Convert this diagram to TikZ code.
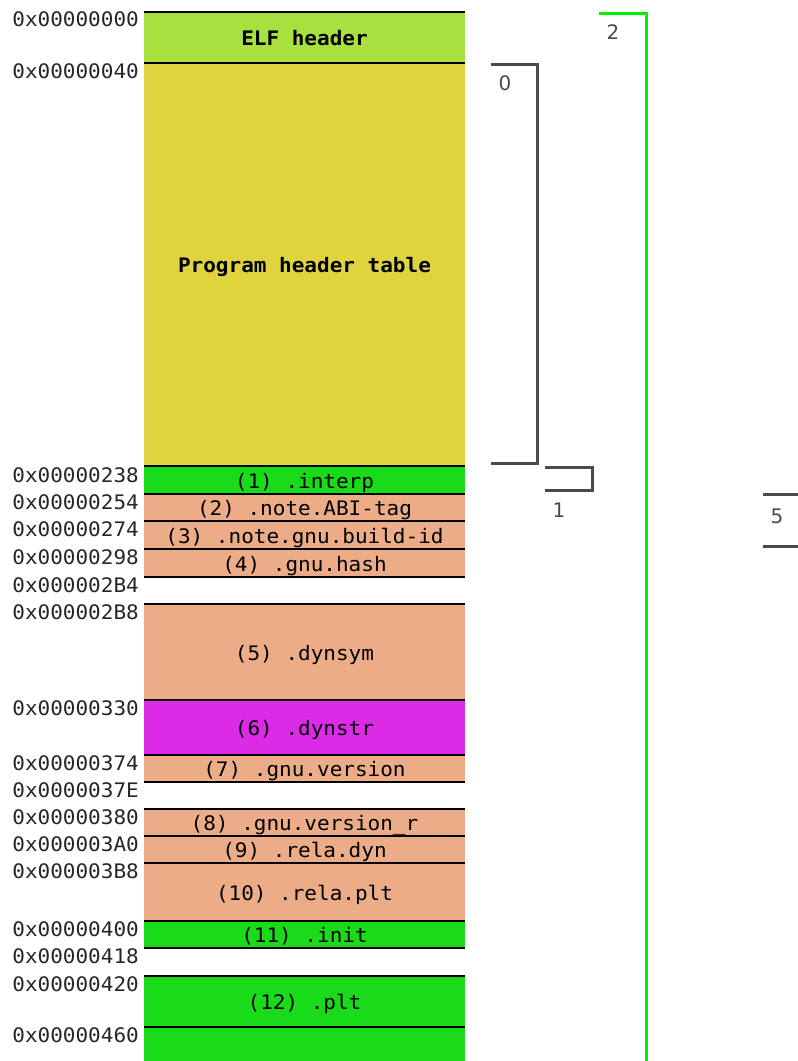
\documentclass[tikz,border=0pt]{standalone}
\usepackage{fontspec}
\newfontfamily\monofont[FakeStretch=1.05]{DejaVu Sans Mono}
\newfontfamily\labfont{DejaVu Sans}
\definecolor{elfc}{HTML}{A8E040}
\definecolor{phtc}{HTML}{DFD43D}
\definecolor{grnc}{HTML}{1ADB1A}
\definecolor{tanc}{HTML}{EBAC87}
\definecolor{magc}{HTML}{DB2BE6}
\definecolor{brkc}{HTML}{4A4A4A}
\definecolor{segc}{HTML}{00F000}
\begin{document}
\begin{tikzpicture}[x=1pt,y=-1pt,
  sec/.style={anchor=north west, minimum width=321pt, inner sep=0pt, outer sep=0pt,
    text height=20pt, text depth=4pt,
    font=\monofont\fontsize{20}{20}\selectfont, text=black},
  sep/.style={draw=black, line width=1.5pt},
  addr/.style={anchor=east, inner sep=0pt, font=\monofont\fontsize{20}{20}\selectfont, text=black!85},
  brk/.style={draw=brkc, line width=3pt},
  seg/.style={draw=segc, line width=3pt},
  num/.style={inner sep=0pt, font=\labfont\fontsize{20}{20}\selectfont, text=brkc}]
\useasboundingbox (0,0) rectangle (798,1061);
% sections
\node[sec, fill=elfc, minimum height=51pt] (elf) at (144,12) {\bfseries ELF header};
\node[sec, fill=phtc, minimum height=403pt] (pht) at (144,63) {\bfseries Program header table};
\node[sec, fill=grnc, minimum height=28pt] (interp) at (144,466) {(1) .interp};
\node[sec, fill=tanc, minimum height=27pt] (abi) at (144,494) {(2) .note.ABI-tag};
\node[sec, fill=tanc, minimum height=28pt] (bid) at (144,521) {(3) .note.gnu.build-id};
\node[sec, fill=tanc, minimum height=28pt] (hash) at (144,549) {(4) .gnu.hash};
\node[sec, fill=tanc, minimum height=96pt] (dynsym) at (144,604) {(5) .dynsym};
\node[sec, fill=magc, minimum height=55pt] (dynstr) at (144,700) {(6) .dynstr};
\node[sec, fill=tanc, minimum height=27pt] (ver) at (144,755) {(7) .gnu.version};
\node[sec, fill=tanc, minimum height=27pt] (verr) at (144,809) {(8) .gnu.version\_r};
\node[sec, fill=tanc, minimum height=27pt] (reladyn) at (144,836) {(9) .rela.dyn};
\node[sec, fill=tanc, minimum height=58pt] (relaplt) at (144,863) {(10) .rela.plt};
\node[sec, fill=grnc, minimum height=27pt] (init) at (144,921) {(11) .init};
\node[sec, fill=grnc, minimum height=51pt] (plt) at (144,976) {(12) .plt};
\node[sec, fill=grnc, minimum height=34pt] (rest) at (144,1027) {};
% separators
\foreach \n in {elf,pht,interp,abi,bid,hash,dynsym,dynstr,ver,verr,reladyn,relaplt,init,plt,rest}
  \draw[sep] (\n.north west) -- (\n.north east);
\draw[sep] (hash.south west) -- (hash.south east);
\draw[sep] (ver.south west) -- (ver.south east);
\draw[sep] (init.south west) -- (init.south east);
% addresses
\node[addr] (a0) at (139,19) {0x00000000};
\node[addr] (a1) at (139,71) {0x00000040};
\node[addr] (a2) at (139,475) {0x00000238};
\node[addr] (a3) at (139,502) {0x00000254};
\node[addr] (a4) at (139,529) {0x00000274};
\node[addr] (a5) at (139,557) {0x00000298};
\node[addr] (a6) at (139,585) {0x000002B4};
\node[addr] (a7) at (139,612) {0x000002B8};
\node[addr] (a8) at (139,708) {0x00000330};
\node[addr] (a9) at (139,763) {0x00000374};
\node[addr] (a10) at (139,790) {0x0000037E};
\node[addr] (a11) at (139,817) {0x00000380};
\node[addr] (a12) at (139,844) {0x000003A0};
\node[addr] (a13) at (139,871) {0x000003B8};
\node[addr] (a14) at (139,929) {0x00000400};
\node[addr] (a15) at (139,956) {0x00000418};
\node[addr] (a16) at (139,984) {0x00000420};
\node[addr] (a17) at (139,1035) {0x00000460};
% bracket 0
\coordinate (b0a) at (491,64); \coordinate (b0b) at (537,64);
\coordinate (b0c) at (537,463); \coordinate (b0d) at (491,463);
\draw[brk] (b0a) -- (b0b) -- (b0c) -- (b0d);
\node[num] (n0) at (505,83) {0};
% bracket 1
\coordinate (b1a) at (545,467); \coordinate (b1b) at (592,467);
\coordinate (b1c) at (592,490); \coordinate (b1d) at (545,490);
\draw[brk] (b1a) -- (b1b) -- (b1c) -- (b1d);
\node[num] (n1) at (559,510) {1};
% segment 2
\coordinate (b2a) at (599,13); \coordinate (b2b) at (646,13);
\coordinate (b2c) at (646,1065);
\draw[seg] (b2a) -- (b2b) -- (b2c);
\node[num] (n2) at (613,32) {2};
% bracket 5
\coordinate (b5a) at (763,494); \coordinate (b5b) at (802,494);
\coordinate (b5c) at (763,546); \coordinate (b5d) at (802,546);
\draw[brk] (b5a) -- (b5b);
\draw[brk] (b5c) -- (b5d);
\node[num] (n5) at (777,516) {5};
\end{tikzpicture}
\end{document}
